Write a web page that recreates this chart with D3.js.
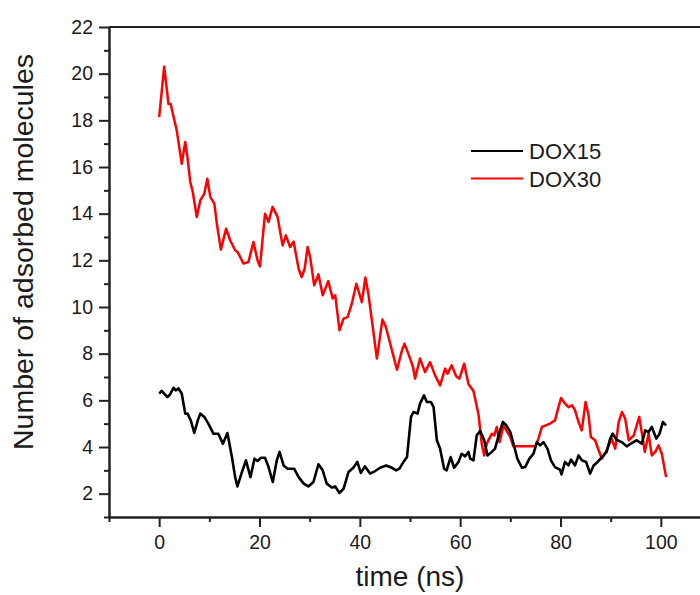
<!DOCTYPE html>
<html lang="en">
  <head>
    <meta charset="utf-8">
    <title>Adsorbed molecules over time</title>
    <script src="https://cdn.jsdelivr.net/npm/d3@7"></script>
    <style>
      body { margin: 0; background: #fff; }
      svg text { font-family: "Liberation Sans", Arial, sans-serif; fill: #1a1a1a; }
      .axis path, .axis line { stroke: #222; stroke-width: 2; }
    </style>
  </head>
  <body>
    <script type="text/javascript">
      var timeRed = [0, 1.0, 1.86, 2.3, 2.5, 3.5, 4.5, 5.2, 5.65, 6.2, 6.7, 7.5, 8.2, 9.0, 9.6, 10.2, 11.0, 11.5, 12.3, 13.35,
        14.15, 15.15, 15.6, 16.0, 16.8, 17.8, 18.8, 19.6, 20.1, 21.1, 21.8, 22.6, 23.6, 24.6, 25.25, 26.1, 26.8, 27.8, 28.4, 29.0,
        29.6, 30.1, 30.9, 31.75, 32.6, 33.7, 34.6, 35.1, 35.95, 36.75, 37.55, 38.4, 39.3, 40.4, 41.1, 41.7, 42.4, 43.4, 44.5, 45.2,
        46.4, 47.4, 48.4, 48.9, 49.9, 50.6, 51.0, 52.0, 53.0, 54.0, 55.0, 56.0, 57.0, 57.5, 58.3, 59.2, 59.85, 60.8, 61.65, 62.65,
        63.65, 64.3, 64.8, 65.3, 65.8, 66.3, 66.8, 67.3, 67.85, 68.65, 69.4, 70.0, 70.6, 75.0, 75.6, 76.3, 77.1, 77.9, 78.9, 79.6,
        80.1, 80.9, 81.6, 82.3, 82.9, 83.6, 84.25, 85.0, 85.6, 86.05, 86.9, 87.6, 88.25, 89.2, 90.2, 90.9, 91.6, 92.25, 92.9, 93.6,
        94.6, 95.7, 96.4, 96.8, 97.55, 98.2, 98.9, 99.55, 100.2, 101.05];
      var dox30 = [18.14, 20.3, 18.7, 18.7, 18.5, 17.57, 16.14, 17.07, 16.4, 15.36, 14.93, 13.86, 14.57, 14.86, 15.5, 14.71, 14.43, 13.57, 12.46, 13.36,
        12.86, 12.43, 12.36, 12.21, 11.86, 11.93, 12.79, 12.0, 11.74, 14.0, 13.64, 14.29, 13.86, 12.64, 13.07, 12.57, 12.8, 11.64, 11.28, 11.64,
        12.57, 12.14, 10.93, 11.4, 10.5, 11.11, 10.36, 10.5, 9.0, 9.5, 9.57, 10.14, 11.0, 10.21, 11.26, 10.57, 9.43, 7.79, 9.46, 9.14,
        8.14, 7.31, 8.14, 8.43, 7.86, 7.43, 6.93, 7.79, 7.21, 7.64, 7.07, 6.64, 7.36, 7.14, 7.5, 7.03, 6.93, 7.57, 6.7, 6.4,
        5.4, 4.14, 3.64, 4.14, 4.36, 4.57, 4.5, 4.86, 4.21, 4.93, 4.64, 4.43, 4.03, 4.03, 4.36, 4.86, 4.93, 5.0, 5.14, 5.71,
        6.1, 5.86, 5.71, 5.79, 5.57, 5.07, 4.71, 5.93, 5.36, 4.43, 4.29, 3.86, 3.5, 3.86, 4.36, 3.93, 5.07, 5.5, 5.21, 4.29,
        4.5, 5.29, 4.36, 3.79, 4.57, 3.64, 3.79, 4.07, 3.71, 2.71];

      var timeBlack = [0, 0.5, 1, 1.65, 2.2, 2.85, 3.3, 3.85, 4.5, 5.2, 5.65, 6.3, 7.0, 7.7, 8.2, 9.0, 9.8, 10.8, 11.8, 12.7,
        13.6, 14.5, 15.15, 15.6, 16.5, 17.3, 18.2, 19.0, 19.6, 20.3, 21.1, 21.8, 22.65, 23.45, 24.0, 24.8, 25.6, 26.9, 27.8, 28.8,
        29.75, 30.75, 31.75, 32.6, 33.4, 34.4, 35.1, 35.95, 36.75, 37.75, 38.7, 39.5, 40.2, 41.0, 42.05, 43.05, 44.05, 45.25, 46.4, 47.25,
        47.9, 48.7, 49.4, 50.2, 50.7, 51.5, 52.0, 52.8, 53.35, 54.15, 54.7, 55.35, 56.0, 56.8, 57.3, 58.1, 58.8, 59.65, 60.3, 61.0,
        61.65, 62.0, 62.65, 63.3, 64.0, 64.8, 65.45, 66.3, 66.95, 67.85, 68.5, 69.2, 70.0, 70.8, 71.4, 72.3, 72.95, 73.8, 74.6, 75.3,
        75.95, 76.6, 77.4, 78.1, 78.9, 79.9, 80.2, 80.9, 81.6, 82.1, 82.9, 83.6, 84.25, 85.1, 85.9, 86.6, 87.4, 88.25, 89.2, 89.9,
        90.4, 91.2, 92.2, 93.2, 94.2, 95.2, 96.2, 96.9, 97.55, 98.2, 99.1, 99.75, 100.4, 101.05];
      var dox15 = [6.29, 6.4, 6.29, 6.14, 6.26, 6.54, 6.43, 6.51, 6.29, 5.43, 5.43, 5.14, 4.6, 5.14, 5.43, 5.29, 5.0, 4.57, 4.57, 4.14,
        4.6, 3.57, 2.71, 2.31, 2.93, 3.43, 2.71, 3.5, 3.40, 3.54, 3.54, 3.14, 2.5, 3.43, 3.79, 3.21, 3.07, 3.07, 2.71, 2.43,
        2.31, 2.5, 3.26, 3.0, 2.43, 2.26, 2.31, 2.03, 2.21, 2.93, 3.11, 3.36, 2.89, 3.17, 2.86, 2.97, 3.11, 3.21, 3.11, 3.0,
        3.07, 3.36, 3.57, 5.29, 5.5, 5.43, 5.86, 6.21, 5.93, 5.93, 5.71, 4.29, 3.93, 3.07, 3.0, 3.57, 3.11, 3.36, 3.71, 3.6,
        3.79, 3.5, 3.43, 4.5, 4.69, 4.29, 3.64, 3.79, 3.93, 4.64, 5.07, 4.93, 4.64, 4.0, 3.5, 3.11, 3.14, 3.5, 3.71, 4.21,
        4.07, 4.21, 3.93, 3.43, 3.14, 3.03, 2.83, 3.36, 3.21, 3.46, 3.21, 3.64, 3.43, 3.36, 2.86, 3.21, 3.36, 3.57, 3.79, 4.36,
        4.57, 4.31, 4.21, 4.03, 4.17, 4.29, 4.14, 4.71, 4.64, 4.86, 4.36, 4.57, 5.07, 4.93];

      var seriesNames = ["DOX15", "DOX30"];
      var seriesColors = ["#000000", "#ff0000"];
      var xMajor = [0, 20, 40, 60, 80, 100];
      var xMinor = [-10, 10, 30, 50, 70, 90, 110];
      var yMajor = [2, 4, 6, 8, 10, 12, 14, 16, 18, 20, 22];
      var yMinor = [1, 3, 5, 7, 9, 11, 13, 15, 17, 19, 21];

      var w = 700;
      var h = 595;
      var plotLeft = 109, plotRight = 711, plotTop = 27, plotBottom = 517;

      var svg = d3.select("body")
        .append("svg")
        .attr("width", w)
        .attr("height", h);

      var xScale = d3.scaleLinear().domain([-10, 110]).range([plotLeft, plotRight]);
      var yScale = d3.scaleLinear().domain([1, 22]).range([plotBottom, plotTop]);

      // top frame line
      svg.append("line")
        .attr("x1", plotLeft).attr("x2", plotRight)
        .attr("y1", plotTop).attr("y2", plotTop)
        .attr("stroke", "#222").attr("stroke-width", 2);

      svg.append("g")
        .attr("class", "axis")
        .attr("transform", "translate(0," + plotBottom + ")")
        .call(d3.axisBottom(xScale).tickValues(xMinor).tickSize(5).tickSizeOuter(0).tickFormat(""));
      svg.append("g")
        .attr("class", "axis")
        .attr("transform", "translate(0," + plotBottom + ")")
        .call(d3.axisBottom(xScale).tickValues(xMajor).tickSize(10).tickSizeOuter(0).tickPadding(8))
        .selectAll("text")
        .style("font-size", "19.5px")
        .style("font-family", "'Liberation Sans', Arial, sans-serif");

      svg.append("g")
        .attr("class", "axis")
        .attr("transform", "translate(" + plotLeft + ",0)")
        .call(d3.axisLeft(yScale).tickValues(yMinor).tickSize(5).tickSizeOuter(0).tickFormat(""));
      svg.append("g")
        .attr("class", "axis")
        .attr("transform", "translate(" + plotLeft + ",0)")
        .call(d3.axisLeft(yScale).tickValues(yMajor).tickSize(10).tickSizeOuter(0).tickPadding(6))
        .selectAll("text")
        .style("font-size", "19.5px")
        .style("font-family", "'Liberation Sans', Arial, sans-serif");

      var line = d3.line()
        .x(function(d) { return xScale(d[0]); })
        .y(function(d) { return yScale(d[1]); });

      var black = timeBlack.map(function(t, i) { return [t, dox15[i]]; });
      var red = timeRed.map(function(t, i) { return [t, dox30[i]]; });

      svg.append("path")
        .datum(red)
        .attr("d", line)
        .attr("fill", "none")
        .attr("stroke", seriesColors[1])
        .attr("stroke-width", 2.5)
        .attr("stroke-linejoin", "round");
      svg.append("path")
        .datum(black)
        .attr("d", line)
        .attr("fill", "none")
        .attr("stroke", seriesColors[0])
        .attr("stroke-width", 2.6)
        .attr("stroke-linejoin", "round");

      // legend
      var legend = svg.append("g").attr("transform", "translate(471,151)");
      seriesNames.forEach(function(name, i) {
        legend.append("line")
          .attr("x1", 0).attr("x2", 52)
          .attr("y1", i * 27.6).attr("y2", i * 27.6)
          .attr("stroke", seriesColors[i]).attr("stroke-width", 2);
        legend.append("text")
          .attr("x", 58).attr("y", i * 27.6)
          .attr("dy", "0.36em")
          .style("font-size", "22px")
          .text(name);
      });

      // axis titles
      svg.append("text")
        .attr("x", 410).attr("y", 586)
        .attr("text-anchor", "middle")
        .style("font-size", "28px")
        .text("time (ns)");
      svg.append("text")
        .attr("transform", "translate(33,252) rotate(-90)")
        .attr("text-anchor", "middle")
        .style("font-size", "28.5px")
        .text("Number of adsorbed molecules");
    </script>
  </body>
</html>
